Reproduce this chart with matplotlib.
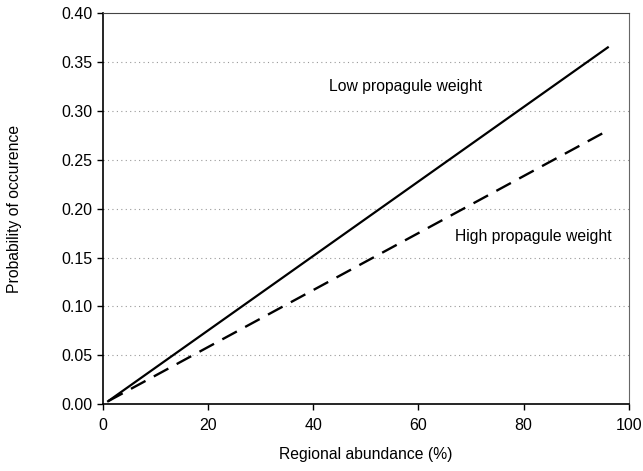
import matplotlib.pyplot as plt

plt.rcParams['font.family'] = ['Liberation Sans', 'DejaVu Sans']

abundance = [1, 96]
low_weight = [0.003, 0.365]
high_weight = [0.003, 0.280]

xticks = [0, 20, 40, 60, 80, 100]
yticks = [0.00, 0.05, 0.10, 0.15, 0.20, 0.25, 0.30, 0.35, 0.40]

fig = plt.figure(figsize=(6.43, 4.71), dpi=100)
ax = fig.add_axes([0.160, 0.142, 0.818, 0.830])

ax.plot(abundance, low_weight, color='black', lw=1.6)
ax.plot(abundance, high_weight, color='black', lw=1.7, dashes=(7, 4))

ax.set_xlim(0, 100)
ax.set_ylim(0, 0.40)
ax.set_xticks(xticks)
ax.set_yticks(yticks)
ax.set_yticklabels(['%.2f' % v for v in yticks])

for v in yticks[1:-1]:
    ax.axhline(v, color='#999999', lw=0.8, ls=(0, (1, 3)), zorder=0)

ax.text(43, 0.325, 'Low propagule weight', fontsize=11.3, va='center', ha='left')
ax.text(67, 0.172, 'High propagule weight', fontsize=11.3, va='center', ha='left')

ax.set_xlabel('Regional abundance (%)', fontsize=11.3, labelpad=10)
ax.set_ylabel('Probability of occurence', fontsize=11.3, labelpad=28)

ax.tick_params(direction='out', length=4, labelsize=11.5, width=1)
ax.tick_params(axis='x', pad=6)
ax.spines['left'].set_linewidth(1.2)
ax.spines['bottom'].set_linewidth(1.2)
ax.spines['top'].set_linewidth(0.8)
ax.spines['right'].set_linewidth(0.8)
ax.spines['right'].set_color('#666666')
ax.spines['top'].set_color('#444444')

plt.savefig('out.png', dpi=100)
